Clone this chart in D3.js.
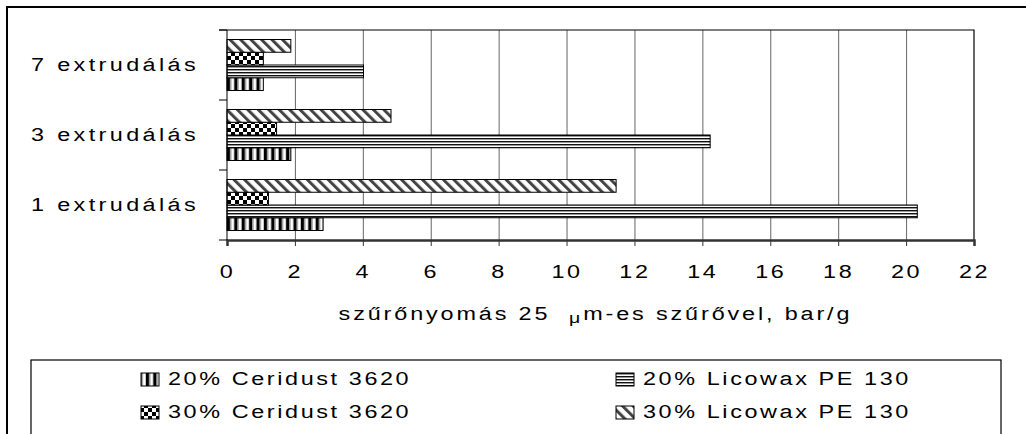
<!DOCTYPE html>
<html>
<head>
<meta charset="utf-8">
<script src="https://cdn.jsdelivr.net/npm/d3@7"></script>
<style>
  body { margin: 0; background: #fff; }
  text { font-family: "Liberation Sans", Arial, sans-serif; fill: #000; }
</style>
</head>
<body>
<div id="chart"></div>
<script>
// chart values
const categories = ['7 extrudálás', '3 extrudálás', '1 extrudálás'];
const seriesNames = ['20% Ceridust 3620', '20% Licowax PE 130', '30% Ceridust 3620', '30% Licowax PE 130'];
const ceridust20 = [1.07, 1.88, 2.83];
const licowax20 = [4.02, 14.23, 20.33];
const ceridust30 = [1.07, 1.46, 1.22];
const licowax30 = [1.88, 4.83, 11.46];
const xTicks = [0, 2, 4, 6, 8, 10, 12, 14, 16, 18, 20, 22];
const xTitleParts = ['szűrőnyomás 25 ', 'μ', 'm-es szűrővel, bar/g'];

const width = 1026;
const height = 434;
const plot = { left: 227, right: 974, top: 30, bottom: 240 };

const series = seriesNames.map((name, i) => ({
    name,
    values: [ceridust20, licowax20, ceridust30, licowax30][i],
    pattern: ['pCer20', 'pLic20', 'pCer30', 'pLic30'][i],
}));

// stretch text the way the old chart renders it (wide glyphs, wide spacing)
function stretch(sel, k = 1.3) {
    sel.each(function () {
        const len = this.getComputedTextLength();
        d3.select(this).attr('textLength', len * k).attr('lengthAdjust', 'spacingAndGlyphs');
    });
}

const svg = d3.select('#chart')
    .append('svg')
    .attr('width', width)
    .attr('height', height);

const defs = svg.append('defs');

// vertical stripes
const p1 = defs.append('pattern').attr('id', 'pCer20')
    .attr('patternUnits', 'userSpaceOnUse').attr('x', plot.left)
    .attr('width', 7.4).attr('height', 10);
p1.append('rect').attr('width', 7.4).attr('height', 10).attr('fill', '#fff');
p1.append('rect').attr('width', 3).attr('height', 10).attr('fill', '#000');
p1.append('rect').attr('x', 3).attr('width', 1.3).attr('height', 10).attr('fill', '#888');
p1.append('rect').attr('x', 6.6).attr('width', 0.8).attr('height', 10).attr('fill', '#bbb');

// horizontal lines
const p2 = defs.append('pattern').attr('id', 'pLic20')
    .attr('patternUnits', 'userSpaceOnUse')
    .attr('width', 10).attr('height', 3);
p2.append('rect').attr('width', 10).attr('height', 3).attr('fill', '#fff');
p2.append('rect').attr('width', 10).attr('height', 1).attr('fill', '#111');
p2.append('rect').attr('y', 1).attr('width', 10).attr('height', 1).attr('fill', '#999');

// checkerboard
const p3 = defs.append('pattern').attr('id', 'pCer30')
    .attr('patternUnits', 'userSpaceOnUse').attr('x', plot.left)
    .attr('width', 8).attr('height', 8);
p3.append('rect').attr('width', 8).attr('height', 8).attr('fill', '#fff');
p3.append('rect').attr('width', 4).attr('height', 4).attr('fill', '#000');
p3.append('rect').attr('x', 4).attr('y', 4).attr('width', 4).attr('height', 4).attr('fill', '#000');

// diagonal hatch
const p4 = defs.append('pattern').attr('id', 'pLic30')
    .attr('patternUnits', 'userSpaceOnUse')
    .attr('width', 7.4).attr('height', 7.4)
    .attr('patternTransform', 'rotate(-45)');
p4.append('rect').attr('width', 7.4).attr('height', 7.4).attr('fill', '#fff');
p4.append('rect').attr('width', 3).attr('height', 7.4).attr('fill', '#444');

// outer frame
svg.append('rect')
    .attr('x', 7).attr('y', 7)
    .attr('width', width + 20).attr('height', height + 20)
    .attr('fill', 'none').attr('stroke', '#000').attr('stroke-width', 2);

const xScale = d3.scaleLinear().domain([0, 22]).range([plot.left, plot.right]);
const yScale = d3.scaleBand().domain(categories).range([plot.top, plot.bottom]);
const inner = d3.scaleBand()
    .domain(seriesNames.slice().reverse())
    .range([0, yScale.bandwidth()])
    .paddingInner(0)
    .paddingOuter(0.745);

// gridlines
svg.append('g')
    .attr('transform', `translate(0, ${plot.bottom})`)
    .call(d3.axisBottom(xScale).tickValues(xTicks.slice(1, -1)).tickFormat('').tickSize(-(plot.bottom - plot.top)))
    .call(g => g.select('.domain').remove())
    .call(g => g.selectAll('line').attr('stroke', '#666'));

// plot frame top and right
svg.append('path')
    .attr('d', `M${plot.left - 8},${plot.top}H${plot.right}V${plot.bottom}`)
    .attr('fill', 'none').attr('stroke', '#000').attr('stroke-width', 1.2);

// bars
const groups = svg.append('g').selectAll('g')
    .data(series)
    .join('g')
    .attr('fill', d => `url(#${d.pattern})`);

groups.selectAll('rect')
    .data(d => d.values.map((v, i) => ({ name: d.name, cat: categories[i], value: v })))
    .join('rect')
    .attr('x', xScale(0))
    .attr('y', d => yScale(d.cat) + inner(d.name))
    .attr('width', d => xScale(d.value) - xScale(0))
    .attr('height', inner.bandwidth())
    .attr('stroke', '#000')
    .attr('stroke-width', 1);

// x axis
const xAxis = svg.append('g')
    .attr('transform', `translate(0, ${plot.bottom})`)
    .call(d3.axisBottom(xScale).tickValues(xTicks).tickSize(6).tickPadding(19).tickFormat(d3.format('d')));
xAxis.select('.domain').attr('stroke', '#333').attr('stroke-width', 2.5);
xAxis.selectAll('.tick line').attr('stroke', '#333');
xAxis.selectAll('.tick text')
    .style('font-size', '18px')
    .style('letter-spacing', '2px')
    .attr('fill', '#000');
stretch(xAxis.selectAll('.tick text'));

// y axis
svg.append('line')
    .attr('x1', plot.left).attr('x2', plot.left)
    .attr('y1', plot.top).attr('y2', plot.bottom)
    .attr('stroke', '#000');

svg.append('g').selectAll('line')
    .data(categories.map(c => yScale(c)).concat([yScale.range()[1]]))
    .join('line')
    .attr('x1', plot.left - 8).attr('x2', plot.left)
    .attr('y1', d => d).attr('y2', d => d)
    .attr('stroke', '#000');

const catLabels = svg.append('g').selectAll('text')
    .data(categories)
    .join('text')
    .attr('x', plot.left - 28)
    .attr('y', d => yScale(d) + yScale.bandwidth() / 2)
    .attr('dy', '0.35em')
    .attr('text-anchor', 'end')
    .style('font-size', '18px')
    .style('letter-spacing', '2.6px')
    .text(d => d);
stretch(catLabels);

// axis title (the mu is set smaller and lower, like a Symbol-font glyph)
const title = svg.append('text')
    .attr('x', (plot.left + plot.right) / 2 - 5)
    .attr('y', 320)
    .attr('text-anchor', 'middle')
    .style('font-size', '18px')
    .style('letter-spacing', '2.2px');
title.append('tspan').text(xTitleParts[0] + '\u00a0');
title.append('tspan').style('font-size', '15px').attr('dy', 3).text(xTitleParts[1]);
title.append('tspan').attr('dy', -3).text(xTitleParts[2]);
stretch(title);

// legend
svg.append('rect')
    .attr('x', 31).attr('y', 360)
    .attr('width', 1001 - 31).attr('height', 100)
    .attr('fill', 'none').attr('stroke', '#000').attr('stroke-width', 1.2);

const legendCols = [141, 616];
const legendRows = [379, 412];

const items = svg.append('g').selectAll('g')
    .data(series)
    .join('g')
    .attr('transform', (d, i) => `translate(${legendCols[i % 2]}, ${legendRows[Math.floor(i / 2)]})`);

items.append('rect')
    .attr('x', 0).attr('y', -6)
    .attr('width', 18).attr('height', 13)
    .attr('fill', d => `url(#${d.pattern})`)
    .attr('stroke', '#000');

const legendText = items.append('text')
    .attr('x', 27)
    .attr('y', 6)
    .style('font-size', '18px')
    .style('letter-spacing', '2px')
    .text(d => d.name);
stretch(legendText);
</script>
</body>
</html>
